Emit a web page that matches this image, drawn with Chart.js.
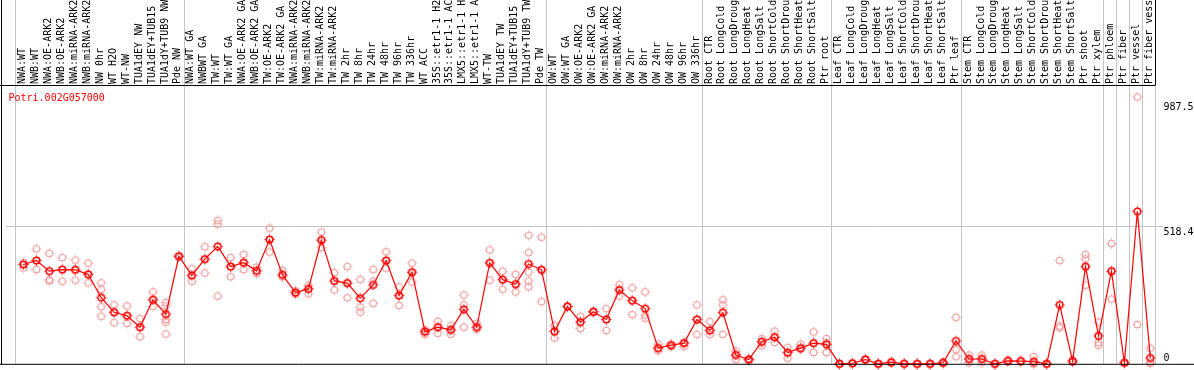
<!DOCTYPE html>
<html>
<head>
<meta charset="utf-8">
<script src="https://cdn.jsdelivr.net/npm/chart.js@4.4.1/dist/chart.umd.min.js"></script>
<style>
  html, body { margin: 0; padding: 0; background: #fff; }
  #wrap { width: 1194px; height: 370px; }
</style>
</head>
<body>
<div id="wrap"><canvas id="c" width="1194" height="370"></canvas></div>
<script>
const geneTitle = 'Potri.002G057000';

const categories = [
  'NWA:WT','NWB:WT','NWA:OE-ARK2','NWB:OE-ARK2','NWA:miRNA-ARK2','NWB:miRNA-ARK2','NW 0hr','WT H2O','WT-NW','TUA1dEY NW','TUA1dEY+TUB15 NW','TUA1dY+TUB9 NW','Pde NW',
  'NWA:WT GA','NWBWT GA','TW:WT','TW:WT GA','NWA:OE-ARK2 GA','NWB:OE-ARK2 GA','TW:OE-ARK2','TW:OE-ARK2 GA','NWA:miRNA-ARK2 GA','NWB:miRNA-ARK2 GA','TW:miRNA-ARK2','TW:miRNA-ARK2 GA',
  'TW 2hr','TW 8hr','TW 24hr','TW 48hr','TW 96hr','TW 336hr','WT ACC','35S::etr1-1 H2O','35S::etr1-1 ACC','LMX5::etr1-1 H2O','LMX5::etr1-1 ACC','WT-TW','TUA1dEY TW','TUA1dEY+TUB15 TW','TUA1dY+TUB9 TW','Pde TW',
  'OW:WT','OW:WT GA','OW:OE-ARK2','OW:OE-ARK2 GA','OW:miRNA-ARK2','OW:miRNA-ARK2 GA','OW 2hr','OW 8hr','OW 24hr','OW 48hr','OW 96hr','OW 336hr',
  'Root CTR','Root LongCold','Root LongDrought','Root LongHeat','Root LongSalt','Root ShortCold','Root ShortDrought','Root ShortHeat','Root ShortSalt','Ptr root',
  'Leaf CTR','Leaf LongCold','Leaf LongDrought','Leaf LongHeat','Leaf LongSalt','Leaf ShortCold','Leaf ShortDrought','Leaf ShortHeat','Leaf ShortSalt','Ptr leaf',
  'Stem CTR','Stem LongCold','Stem LongDrought','Stem LongHeat','Stem LongSalt','Stem ShortCold','Stem ShortDrought','Stem ShortHeat','Stem ShortSalt','Ptr shoot','Ptr xylem',
  'Ptr phloem','Ptr fiber','Ptr vessel','Ptr fiber vessel'
];

// index of the first category of each sample group (last entry = end)
const groupStarts = [0, 13, 41, 53, 63, 73, 84, 85, 86, 87, 88];

const meanValues = [
  374,389,349,355,354,337,249,194,181,138,241,187,405,
  333,394,442,366,381,350,468,335,268,282,466,312,304,247,297,389,257,345,121,138,128,205,138,380,317,300,376,354,
  122,216,157,196,167,278,238,208,59,70,78,167,
  126,193,33,16,83,100,42,59,78,73,
  0,2,16,0,6,0,0,0,4,86,
  18,18,0,11,10,8,0,222,10,366,105,
  349,4,574,22
];

const replicateValues = [
  [382,374,361],[433,389,355],[416,317,312],[400,355,311],[390,354,315],[379,337,305],[305,280,215,179],[222,194,155],[218,181,152],[170,138,102],[271,241,216],[231,218,167,157,112],[405,403,407],
  [358,333,311],[441,394,342],[540,526,255],[400,366,328],[412,381,355],[364,350,340],[511,468,421],[352,335,327],[275,268,262],[296,282,263],[496,466,438],[343,312,278],
  [366,304,249],[318,213,195],[355,311,228],[422,389,360],[290,257,220],[379,345,308],[121,111,128],[160,138,115],[144,128,111],[259,222,138],[152,138,130],[429,380,315],[349,317,281],[337,300,271],[484,419,345,312,290],[477,354,234],
  [144,122,97],[216,214,218],[179,157,133],[196,194,198],[208,167,126],[298,278,255],[286,238,185],[271,184,172],[74,59,49],[74,70,65],[80,78,65],[222,167,111],
  [159,126,110],[241,222,111],[49,33,16],[20,16,12],[95,83,68],[123,100,80],[61,42,21],[74,59,55],[120,78,43],[95,80,43],
  [0,0,0],[3,2,1],[16,14,18],[0,0,0],[8,5,3],[2,0,0],[0,0,0],[0,0,0],[6,4,2],[175,53,27],
  [33,18,4],[33,18,4],[0,0,0],[14,11,8],[12,10,8],[27,0,0],[0,0,0],[389,142,136],[14,10,6],[411,395,296],[157,80,70],
  [453,349,244],[4,4,4],[1005,148],[59,4,3]
];

const yTickValues = [0, 518.4, 987.5];
const yGridValue = 518.4;

const FONT = 'DejaVu Sans Mono';

function makeMarker(color, lw) {
  const c = document.createElement('canvas');
  c.width = 13; c.height = 13;
  const g = c.getContext('2d');
  g.strokeStyle = color;
  g.lineWidth = lw;
  g.beginPath(); g.arc(6.5, 6.5, 3.3, 0, Math.PI * 2); g.stroke();
  g.lineWidth = 1;
  g.beginPath();
  g.moveTo(6.5, 1.5); g.lineTo(6.5, 2.6); g.moveTo(6.5, 10.4); g.lineTo(6.5, 11.5);
  g.moveTo(1.5, 6.5); g.lineTo(2.6, 6.5); g.moveTo(10.4, 6.5); g.lineTo(11.5, 6.5);
  g.stroke();
  return c;
}
const meanMarker = makeMarker('#ff0000', 1.6);
const repMarker = makeMarker('#f09a9a', 1.1);

const meanPoints = meanValues.map((v, i) => ({ x: i, y: v }));
const repPoints = [];
replicateValues.forEach((arr, i) => arr.forEach(v => repPoints.push({ x: i, y: v })));

const decor = {
  id: 'decor',
  beforeDatasetsDraw(chart) {
    const { ctx, chartArea, scales: { x } } = chart;
    ctx.save();
    ctx.lineWidth = 1;
    groupStarts.forEach((s, k) => {
      const px = Math.floor(x.getPixelForValue(s - 0.6)) + 0.5;
      const last = k === groupStarts.length - 1;
      ctx.strokeStyle = '#c4c4c4';
      ctx.beginPath(); ctx.moveTo(px, last ? chartArea.top : 0); ctx.lineTo(px, chartArea.bottom); ctx.stroke();
      if (last) {
        ctx.strokeStyle = '#000';
        ctx.beginPath(); ctx.moveTo(px, 0); ctx.lineTo(px, chartArea.top); ctx.stroke();
      }
    });
    ctx.restore();
  },
  afterDraw(chart) {
    const { ctx, chartArea, scales: { x, y } } = chart;
    const endPx = Math.floor(x.getPixelForValue(groupStarts[groupStarts.length - 1] - 0.6)) + 0.5;
    ctx.save();
    ctx.strokeStyle = '#000';
    ctx.lineWidth = 1;
    ctx.beginPath();
    ctx.moveTo(0, chartArea.top + 0.5); ctx.lineTo(endPx, chartArea.top + 0.5);
    ctx.moveTo(1.5, 0); ctx.lineTo(1.5, chartArea.bottom + 1);
    ctx.moveTo(0, chartArea.bottom + 0.5); ctx.lineTo(chart.width, chartArea.bottom + 0.5);
    ctx.stroke();

    ctx.font = '10px "' + FONT + '"';
    ctx.fillStyle = '#ff0000';
    ctx.textAlign = 'left';
    ctx.textBaseline = 'alphabetic';
    ctx.fillText(geneTitle, 8.5, chartArea.top + 16);

    ctx.fillStyle = '#000';
    yTickValues.forEach(v => {
      const py = y.getPixelForValue(v);
      ctx.fillText(String(v), chartArea.right + 0.5, v === 0 ? py - 2.5 : py + 8.5);
    });
    ctx.restore();
  }
};

new Chart(document.getElementById('c'), {
  type: 'line',
  data: {
    datasets: [
      {
        label: 'mean',
        data: meanPoints,
        borderColor: '#ff0000',
        borderWidth: 1.2,
        pointStyle: meanMarker,
        pointRadius: 5,
        tension: 0,
        clip: false,
        order: 0
      },
      {
        label: 'replicates',
        data: repPoints,
        showLine: false,
        borderColor: '#f09a9a',
        pointStyle: repMarker,
        pointRadius: 5,
        clip: false,
        order: 1
      }
    ]
  },
  options: {
    responsive: false,
    animation: false,
    devicePixelRatio: 1,
    layout: { padding: { left: 2, right: 0, top: 0, bottom: 2 } },
    plugins: { legend: { display: false }, tooltip: { enabled: false }, title: { display: false } },
    scales: {
      x: {
        type: 'linear',
        position: 'top',
        min: -1.331,
        max: 87.98,
        afterBuildTicks: s => { s.ticks = categories.map((c, i) => ({ value: i })); },
        afterFit: s => { s.height = 85; },
        grid: { display: false, drawTicks: false },
        border: { display: false },
        ticks: {
          autoSkip: false,
          minRotation: 90,
          maxRotation: 90,
          padding: 1,
          labelOffset: 11,
          color: '#000',
          font: { family: FONT, size: 10 },
          callback: v => categories[v]
        }
      },
      y: {
        position: 'right',
        min: 0,
        max: 1050,
        afterBuildTicks: s => { s.ticks = yTickValues.map(v => ({ value: v })); },
        afterFit: s => { s.width = 31; },
        border: { display: false },
        ticks: { display: false },
        grid: {
          drawTicks: false,
          color: c => (c.tick && c.tick.value === yGridValue) ? '#c4c4c4' : 'rgba(0,0,0,0)'
        }
      }
    }
  },
  plugins: [decor]
});
</script>
</body>
</html>
